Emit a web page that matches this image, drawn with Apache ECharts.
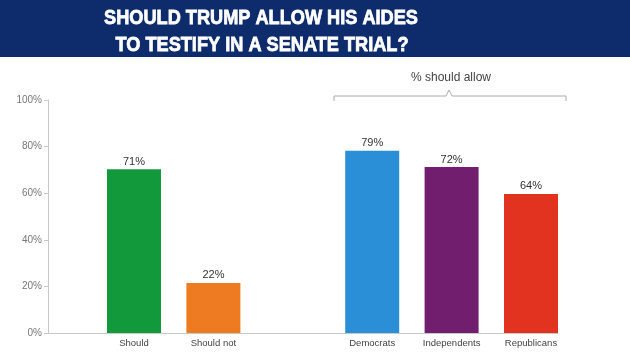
<!DOCTYPE html>
<html>
<head>
<meta charset="utf-8">
<title>Should Trump allow his aides to testify</title>
<script src="https://cdn.jsdelivr.net/npm/echarts@6/dist/echarts.min.js"></script>
<style>
  html, body { margin: 0; padding: 0; background: #fff; }
  #box { width: 630px; height: 354px; }
</style>
</head>
<body>
<div id="box"></div>
<script>
// data
var categories = ['Should', 'Should not', '', 'Democrats', 'Independents', 'Republicans'];
var values = [70.3, 21.5, null, 78.2, 71.2, 59.7];
var labels = ['71%', '22%', '', '79%', '72%', '64%'];
var colors = ['#12993b', '#ee7a21', '', '#2b8fd8', '#711e6f', '#e1331f'];
var yTicks = [0, 20, 40, 60, 80, 100];

var titleLines = ['SHOULD TRUMP ALLOW HIS AIDES', 'TO TESTIFY IN A SENATE TRIAL?'];
var groupTitle = '% should allow';

var barData = values.map(function (v, i) {
  return { value: v, itemStyle: { color: colors[i] }, label: { formatter: labels[i] } };
});

var chart = echarts.init(document.getElementById('box'));
chart.setOption({
  animation: false,
  backgroundColor: '#fff',
  textStyle: { fontFamily: 'Liberation Sans, Arial, sans-serif' },
  grid: [
    { left: 48, right: 72, top: 100, bottom: 21 },
    { left: 94.3, right: 59.3, top: 100, bottom: 21 }
  ],
  xAxis: [
    {
      gridIndex: 0, type: 'value', min: 0, max: 1,
      axisLine: { show: true, lineStyle: { color: '#c8c8c8' } },
      axisTick: { show: false }, axisLabel: { show: false }, splitLine: { show: false }
    },
    {
      gridIndex: 1, type: 'category', data: categories,
      axisLine: { show: false }, axisTick: { show: false },
      axisLabel: { color: '#444', fontSize: 9.5, margin: 5 }
    }
  ],
  yAxis: [
    {
      gridIndex: 0, type: 'value', min: yTicks[0], max: yTicks[yTicks.length - 1], interval: 20,
      axisLine: { show: true, lineStyle: { color: '#c8c8c8' } },
      axisTick: { show: true, length: 4, lineStyle: { color: '#c8c8c8' } },
      axisLabel: { color: '#777', fontSize: 10, margin: 6, formatter: '{value}%' },
      splitLine: { show: false }
    },
    { gridIndex: 1, type: 'value', min: 0, max: 100, show: false }
  ],
  series: [{
    type: 'bar',
    xAxisIndex: 1, yAxisIndex: 1,
    barWidth: 54,
    data: barData,
    label: { show: true, position: 'top', distance: 2, color: '#333', fontSize: 11 }
  }],
  graphic: [
    { type: 'rect', left: 0, top: 0, shape: { width: 630, height: 57 }, style: { fill: '#0e2b6c' }, z: 0 },
    {
      type: 'text', x: 261, y: 18, scaleX: 0.865, z: 10,
      style: { text: titleLines[0], fill: '#fff', stroke: '#fff', lineWidth: 0.8,
               font: 'bold 21px "Liberation Sans", Arial, sans-serif',
               textAlign: 'center', textVerticalAlign: 'middle' }
    },
    {
      type: 'text', x: 262, y: 45, scaleX: 0.865, z: 10,
      style: { text: titleLines[1], fill: '#fff', stroke: '#fff', lineWidth: 0.8,
               font: 'bold 21px "Liberation Sans", Arial, sans-serif',
               textAlign: 'center', textVerticalAlign: 'middle' }
    },
    {
      type: 'text', x: 451, y: 78, z: 10,
      style: { text: groupTitle, fill: '#444', font: '12px "Liberation Sans", Arial, sans-serif',
               textAlign: 'center', textVerticalAlign: 'middle' }
    },
    {
      type: 'polyline', z: 10,
      shape: { points: [[334, 101], [334, 96], [446, 96], [449, 90], [452, 96], [566, 96], [566, 101]] },
      style: { stroke: '#aaa', lineWidth: 1, fill: null }
    }
  ]
});
</script>
</body>
</html>
